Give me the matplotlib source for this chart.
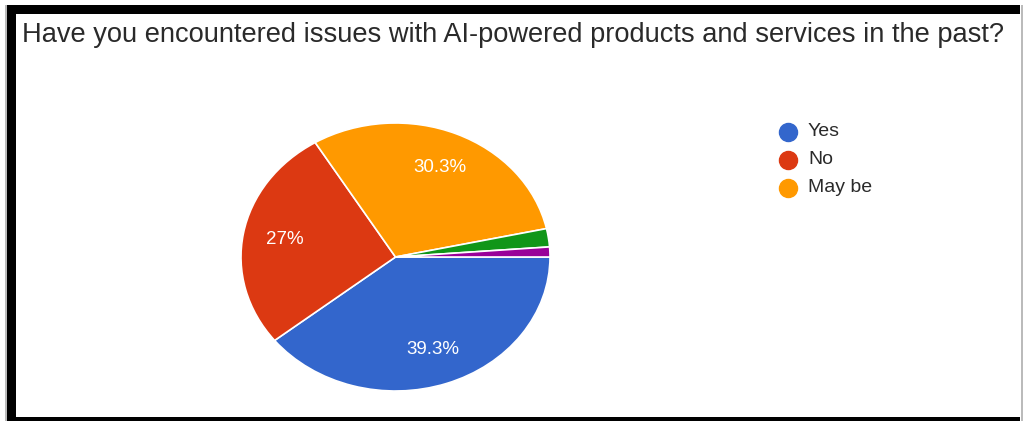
import matplotlib
matplotlib.use("Agg")
import matplotlib.pyplot as plt
import numpy as np
from matplotlib.lines import Line2D
from matplotlib.patches import Rectangle

title = "Have you encountered issues with AI-powered products and services in the past?"
categories = ["Yes", "No", "May be", "Other 1", "Other 2"]
values = [39.3, 27.0, 30.3, 2.2, 1.2]
pct_labels = ["39.3%", "27%", "30.3%", "", ""]
legend_categories = ["Yes", "No", "May be"]
colors = ["#3366CC", "#DC3912", "#FF9900", "#109618", "#990099"]

W, H = 1023, 421
fig = plt.figure(figsize=(W / 100, H / 100), dpi=100)
fig.patch.set_facecolor("white")

def fx(px):
    return px / W

def fy(py):
    return 1 - py / H

# pie axes (elliptical pie)
left, right, top, bottom = 241, 550, 123, 391
ax = fig.add_axes([fx(left), fy(bottom), fx(right - left), (bottom - top) / H])
wedges, texts = ax.pie(values, colors=colors, startangle=0, counterclock=False,
                       wedgeprops=dict(edgecolor="white", linewidth=1.2))
for w, lab in zip(wedges, pct_labels):
    if lab:
        ang = np.deg2rad((w.theta1 + w.theta2) / 2)
        r = 0.73
        ax.text(r * np.cos(ang), r * np.sin(ang), lab, ha="center", va="center",
                color="white", fontsize=13.5, family="Liberation Sans")
ax.set_aspect("auto")
ax.set_xlim(-1, 1)
ax.set_ylim(-1, 1)
ax.axis("off")

# title
fig.text(fx(22), fy(35), title, ha="left", va="center", fontsize=19.6,
         family="Liberation Sans", color="#2a2a2a")

# legend
leg_y = [132, 160, 188]
for cat, c, y in zip(legend_categories, colors, leg_y):
    fig.add_artist(Line2D([fx(788)], [fy(y)], marker="o", markersize=13,
                          color=c, linestyle="none", transform=fig.transFigure))
    fig.text(fx(808), fy(y), cat, ha="left", va="center", fontsize=14,
             family="Liberation Sans", color="#2a2a2a")

# frame
fig.add_artist(Rectangle((fx(7), fy(14)), fx(1013), 9 / H, transform=fig.transFigure,
                         facecolor="black", edgecolor="none"))
fig.add_artist(Rectangle((fx(7), 0), fx(9), fy(5), transform=fig.transFigure,
                         facecolor="black", edgecolor="none"))
fig.add_artist(Rectangle((fx(7), 0), fx(1013), 4 / H, transform=fig.transFigure,
                         facecolor="black", edgecolor="none"))
fig.add_artist(Rectangle((fx(1021), 0), fx(1.5), fy(5), transform=fig.transFigure,
                         facecolor="#bbbbbb", edgecolor="none"))
fig.add_artist(Rectangle((fx(5), 0), fx(1.5), fy(5), transform=fig.transFigure,
                         facecolor="#bbbbbb", edgecolor="none"))

fig.savefig("out.png", dpi=100, facecolor="white")
